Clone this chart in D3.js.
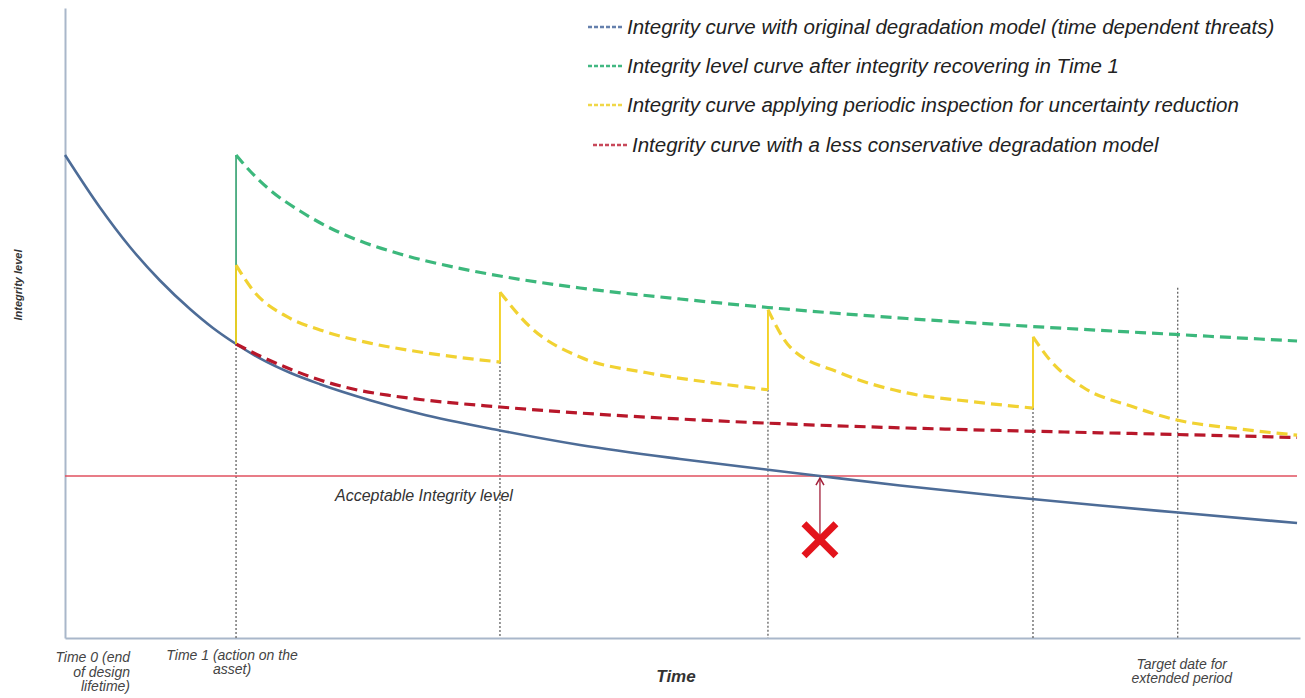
<!DOCTYPE html>
<html><head><meta charset="utf-8">
<script src="https://cdn.jsdelivr.net/npm/d3@7"></script>
<style>
html,body{margin:0;padding:0;background:#fff;}
svg{display:block;font-family:"Liberation Sans",Arial,sans-serif;}
</style></head>
<body>
<svg id="chart" width="1305" height="698"></svg>
<script>
// ---------- data (time units 0-100, integrity level 0-100) ----------
const blueCurve = [[0,76.67],[2.83,68.33],[5.26,62.06],[7.69,56.75],[10.12,52.22],[11.98,49.21],[13.85,46.67],[15.79,44.38],[18.22,42.10],[20.65,40.29],[24.70,37.75],[28.74,35.60],[35.22,32.94],[41.70,30.63],[49.80,28.41],[57.09,26.67],[61.13,25.71],[67.61,24.21],[75.71,22.54],[83.81,21.03],[90.12,19.92],[99.76,18.25]];
const greenCurve = [[13.85,76.67],[14.98,74.13],[16.60,71.11],[19.03,67.78],[21.46,65.08],[23.89,63.02],[27.13,60.95],[31.42,58.89],[35.22,57.46],[41.70,55.56],[49.80,53.81],[56.92,52.46],[68.18,50.71],[78.38,49.44],[90.04,48.17],[99.76,47.14]];
const yellowSeg1 = [[13.85,59.2],[15.22,55.2],[17.98,51.0],[20.65,48.9],[24.7,46.8],[28.74,45.4],[35.22,43.8]];
const yellowSeg2 = [[35.22,54.9],[37.65,49.4],[41.7,44.6],[47.13,42.1],[52.47,40.5],[56.92,39.4]];
const yellowSeg3 = [[56.92,52.1],[58.7,46.2],[62.75,42.1],[68.18,38.9],[73.52,37.5],[78.38,36.5]];
const yellowSeg4 = [[78.38,47.8],[79.76,44.1],[82.43,39.8],[86.48,36.7],[90.04,34.6],[94.57,33.3],[99.76,32.2]];
const redCurve = [[13.85,46.67],[15.79,44.76],[18.22,42.70],[20.65,40.95],[23.32,39.52],[26.32,38.49],[28.74,37.86],[35.22,36.67],[41.70,35.71],[49.80,34.76],[59.51,33.89],[68.18,33.33],[75.71,32.94],[90.04,32.30],[99.76,31.83]];
const time1 = 13.85;
const time1Level = 46.67;
const inspectionTimes = [35.22, 56.92, 78.38];
const targetDate = 90.1;
const targetLineTop = 55.6;
const acceptableLevel = 25.71;
const failureTime = 61.13;
const failureMarkLevel = 15.6;

const legendLabels = [
  "Integrity curve with original degradation model (time dependent threats)",
  "Integrity level curve after integrity recovering in Time 1",
  "Integrity curve applying periodic inspection for uncertainty reduction",
  "Integrity curve with a less conservative degradation model"
];
const time0Label = ["Time 0 (end", "of design", "lifetime)"];
const time1Label = ["Time 1 (action on the", "asset)"];
const targetLabel = ["Target date for", "extended period"];
const xTitle = "Time";
const yTitle = "Integrity level";
const acceptableLabel = "Acceptable Integrity level";

// ---------- styles ----------
const C = {
  axis: "#a9b7ca", blue: "#4d6c97", green: "#3cb87c", greenSolid: "#2f9e6c",
  yellow: "#f1d232", yellowSolid: "#f3cf1a", red: "#b8172a", accept: "#e0505f",
  dotted: "#555", cross: "#e3141c", arrow: "#a3203a", text: "#222"
};
const legendColors = ["#6580ad", "#42b882", "#f0d748", "#c8485a"];

const svg = d3.select("#chart");
const x = d3.scaleLinear().domain([0, 100]).range([65, 1300]);
const y = d3.scaleLinear().domain([0, 100]).range([638, 8]);
const line = d3.line().x(d => x(d[0])).y(d => y(d[1])).curve(d3.curveMonotoneX);

// axes
svg.append("g").attr("transform", `translate(0,${y(0)})`)
  .call(d3.axisBottom(x).tickValues([]).tickSizeOuter(0));
svg.append("g").attr("transform", `translate(${x(0)},0)`)
  .call(d3.axisLeft(y).tickValues([]).tickSizeOuter(0));
svg.selectAll(".domain").attr("stroke", C.axis).attr("stroke-width", 2);

// dotted verticals
const troughs = [yellowSeg1, yellowSeg2, yellowSeg3].map(s => s[s.length - 1][1]);
const dotted = [[time1, time1Level]].concat(inspectionTimes.map((t, i) => [t, troughs[i]]));
dotted.push([targetDate, targetLineTop]);
svg.append("g").selectAll("line").data(dotted).join("line")
  .attr("x1", d => x(d[0])).attr("x2", d => x(d[0]))
  .attr("y1", d => y(d[1])).attr("y2", y(0))
  .attr("stroke", C.dotted).attr("stroke-width", 1.2).attr("stroke-dasharray", "2,2");

// acceptable level
svg.append("line").attr("x1", x(0)).attr("x2", x(99.76))
  .attr("y1", y(acceptableLevel)).attr("y2", y(acceptableLevel))
  .attr("stroke", C.accept).attr("stroke-width", 1.6);
svg.append("text").attr("x", 335).attr("y", y(acceptableLevel) + 25)
  .attr("font-size", 16).attr("font-style", "italic").attr("fill", "#333")
  .text(acceptableLabel);

// blue curve
svg.append("path").attr("d", line(blueCurve)).attr("fill", "none")
  .attr("stroke", C.blue).attr("stroke-width", 2.6);

// green vertical + dashed curve
svg.append("line").attr("x1", x(time1)).attr("x2", x(time1))
  .attr("y1", y(time1Level)).attr("y2", y(greenCurve[0][1]))
  .attr("stroke", C.greenSolid).attr("stroke-width", 1.6);
svg.append("path").attr("d", line(greenCurve)).attr("fill", "none")
  .attr("stroke", C.green).attr("stroke-width", 3.2).attr("stroke-dasharray", "11,6");

// red dashed curve
svg.append("path").attr("d", line(redCurve)).attr("fill", "none")
  .attr("stroke", C.red).attr("stroke-width", 3.2).attr("stroke-dasharray", "11,6");

// yellow jumps + dashed segments
const segs = [yellowSeg1, yellowSeg2, yellowSeg3, yellowSeg4];
const jumps = segs.map((s, i) => [s[0][0], i === 0 ? time1Level : troughs[i - 1], s[0][1]]);
svg.append("g").selectAll("line").data(jumps).join("line")
  .attr("x1", d => x(d[0])).attr("x2", d => x(d[0]))
  .attr("y1", d => y(d[1])).attr("y2", d => y(d[2]))
  .attr("stroke", C.yellowSolid).attr("stroke-width", 1.8);
svg.append("g").selectAll("path").data(segs).join("path")
  .attr("d", line).attr("fill", "none")
  .attr("stroke", C.yellow).attr("stroke-width", 3.2).attr("stroke-dasharray", "11,6");

// arrow & cross
const ax = x(failureTime), aTop = y(acceptableLevel) + 2;
svg.append("line").attr("x1", ax).attr("x2", ax)
  .attr("y1", y(failureMarkLevel)).attr("y2", aTop)
  .attr("stroke", C.arrow).attr("stroke-width", 1.3);
svg.append("path").attr("d", `M${ax-4},${aTop+7}L${ax},${aTop}L${ax+4},${aTop+7}`)
  .attr("fill", "none").attr("stroke", C.arrow).attr("stroke-width", 1.5);
const cx = x(failureTime), cy = y(failureMarkLevel), h = 16;
svg.append("path").attr("d", `M${cx-h},${cy-h}L${cx+h},${cy+h}M${cx+h},${cy-h}L${cx-h},${cy+h}`)
  .attr("stroke", C.cross).attr("stroke-width", 7).attr("stroke-linecap", "butt");

// legend
const lg = svg.append("g");
const rowsY = [27, 66, 105, 145];
legendLabels.forEach((t, i) => {
  const off = i === 3 ? 5 : 0;
  lg.append("line").attr("x1", 588 + off).attr("x2", 622 + off).attr("y1", rowsY[i]).attr("y2", rowsY[i])
    .attr("stroke", legendColors[i]).attr("stroke-width", 2.5).attr("stroke-dasharray", "4,2");
  lg.append("text").attr("x", 627 + off).attr("y", rowsY[i] + 7)
    .attr("font-size", 20.5).attr("font-style", "italic").attr("fill", C.text).text(t);
});

// bottom labels
function multi(lines, xx, y0, anchor, dy) {
  const t = svg.append("text").attr("font-size", 14).attr("font-style", "italic")
    .attr("fill", "#444").attr("text-anchor", anchor);
  lines.forEach((l, i) => t.append("tspan").attr("x", xx).attr("y", y0 + i * dy).text(l));
}
multi(time0Label, x(0) + 65, 662, "end", 14.5);
multi(time1Label, x(time1) - 4, 660, "middle", 14);
multi(targetLabel, x(targetDate) + 4, 669, "middle", 13.5);

svg.append("text").attr("x", 676).attr("y", 682).attr("text-anchor", "middle")
  .attr("font-size", 17).attr("font-weight", "bold").attr("font-style", "italic").attr("fill", "#333").text(xTitle);
svg.append("text").attr("transform", "translate(22,285) rotate(-90)").attr("text-anchor", "middle")
  .attr("font-size", 11).attr("font-weight", "bold").attr("font-style", "italic").attr("fill", "#333").text(yTitle);
</script>
</body></html>
